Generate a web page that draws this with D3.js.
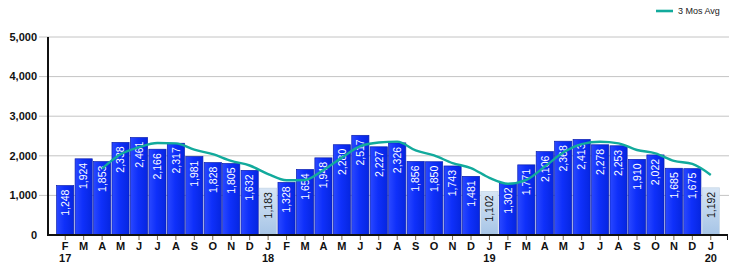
<!DOCTYPE html>
<html>
<head>
<meta charset="utf-8">
<script src="https://cdn.jsdelivr.net/npm/d3@7"></script>
<style>
  body { margin: 0; background: #fff; }
  svg { display: block; font-family: Arial, "Liberation Sans", sans-serif; }
</style>
</head>
<body>
<svg id="chart" width="740" height="264"></svg>
<script>
// month letters along the x axis, one per bar
const months = ["F","M","A","M","J","J","A","S","O","N","D","J",
                "F","M","A","M","J","J","A","S","O","N","D","J",
                "F","M","A","M","J","J","A","S","O","N","D","J"];
// year label printed under some months
const years = ["17","","","","","","","","","","","18",
               "","","","","","","","","","","","19",
               "","","","","","","","","","","","20"];
const values = [1248,1924,1853,2338,2461,2166,2317,1981,1828,1805,1632,1183,
                1328,1654,1948,2280,2517,2227,2326,1856,1850,1743,1481,1102,
                1302,1771,2106,2368,2413,2278,2253,1910,2022,1685,1675,1192];
// 3 months average (no value for the first two months)
const avg3 = [null,null,1675,2038,2217,2322,2315,2155,2042,1871,1755,1540,
              1381,1388,1643,1954,2242,2335,2357,2136,2011,1816,1691,1442,
              1295,1392,1726,2082,2296,2353,2315,2147,2062,1872,1794,1517];
const yTicks = [0,1000,2000,3000,4000,5000];

const svg = d3.select("#chart");
const fmt = d3.format(",");
const idx = d3.range(values.length);

let x = d3.scaleBand().domain(idx).range([56, 720]).paddingInner(0.07).paddingOuter(0.035);
let y = d3.scaleLinear().domain([0, 5000]).range([235, 37]);

const defs = svg.append("defs");
let gBlue = defs.append("linearGradient").attr("id","gBlue").attr("x1",0).attr("x2",1).attr("y1",0).attr("y2",0);
gBlue.append("stop").attr("offset","0%").attr("stop-color","#2a48ff");
gBlue.append("stop").attr("offset","45%").attr("stop-color","#0f30fa");
gBlue.append("stop").attr("offset","100%").attr("stop-color","#0626e0");
let gLight = defs.append("linearGradient").attr("id","gLight").attr("x1",0).attr("x2",0).attr("y1",0).attr("y2",1);
gLight.append("stop").attr("offset","0%").attr("stop-color","#d6e5f5");
gLight.append("stop").attr("offset","100%").attr("stop-color","#a6c4e6");

// gridlines
svg.append("g").selectAll("line").data(yTicks.slice(1)).enter().append("line")
    .attr("x1",39).attr("x2",729)
    .attr("y1",d => y(d)).attr("y2",d => y(d))
    .attr("stroke","#c4c4c4").attr("stroke-width",1);

// y labels
svg.append("g").selectAll("text").data(yTicks).enter().append("text")
    .attr("x",37).attr("y",d => y(d)).attr("dy","0.35em")
    .attr("text-anchor","end")
    .attr("font-size","11px").attr("font-weight","bold").attr("fill","#111")
    .text(d => fmt(d));

const isJan = i => months[i] === "J" && years[i] !== "";

// bars
svg.append("g").selectAll("rect").data(values).enter().append("rect")
    .attr("x",(d,i) => x(i)).attr("width",x.bandwidth())
    .attr("y",d => y(d)).attr("height",d => y(0) - y(d))
    .attr("fill",(d,i) => isJan(i) ? "url(#gLight)" : "url(#gBlue)")
    .attr("stroke",(d,i) => isJan(i) ? "#c4d4e4" : "#0a1fb0").attr("stroke-width",0.7);

// bar value labels
svg.append("g").selectAll("text").data(values).enter().append("text")
    .attr("transform",(d,i) => "translate(" + (x(i) + x.bandwidth()/2) + "," + (y(d) + 4) + ") rotate(-90)")
    .attr("dy","0.36em")
    .attr("text-anchor","end")
    .attr("font-size","10.5px")
    .attr("fill",(d,i) => isJan(i) ? "#111" : "#fff")
    .text(d => fmt(d));

// 3 mos avg line
let line = d3.line()
    .defined(d => d !== null)
    .x((d,i) => x(i) + x.bandwidth()/2)
    .y(d => y(d))
    .curve(d3.curveMonotoneX);
svg.append("path").datum(avg3)
    .attr("d", line)
    .attr("fill","none").attr("stroke","#12aa9c").attr("stroke-width",2.4);

// axes lines
svg.append("line").attr("x1",48).attr("x2",48).attr("y1",37).attr("y2",236)
    .attr("stroke","#111").attr("stroke-width",2);
svg.append("line").attr("x1",47).attr("x2",728).attr("y1",235).attr("y2",235)
    .attr("stroke","#111").attr("stroke-width",2);
svg.append("line").attr("x1",727.5).attr("x2",727.5).attr("y1",235).attr("y2",240)
    .attr("stroke","#111").attr("stroke-width",1);

// x ticks + labels
let xg = svg.append("g");
xg.selectAll("line").data(idx).enter().append("line")
    .attr("x1",i => x(i) + x.bandwidth()/2).attr("x2",i => x(i) + x.bandwidth()/2)
    .attr("y1",236).attr("y2",240)
    .attr("stroke","#7a6a50").attr("stroke-width",1);
xg.selectAll("text.m").data(idx).enter().append("text").attr("class","m")
    .attr("x",i => x(i) + x.bandwidth()/2).attr("y",250)
    .attr("text-anchor","middle")
    .attr("font-size","11px").attr("font-weight","bold").attr("fill","#111")
    .text(i => months[i]);
xg.selectAll("text.yr").data(idx.filter(i => years[i] !== "")).enter().append("text").attr("class","yr")
    .attr("x",i => x(i) + x.bandwidth()/2).attr("y",262)
    .attr("text-anchor","middle")
    .attr("font-size","11px").attr("font-weight","bold").attr("fill","#111")
    .text(i => years[i]);

// legend
svg.append("line").attr("x1",656).attr("x2",673).attr("y1",11).attr("y2",11)
    .attr("stroke","#12aa9c").attr("stroke-width",2.6);
svg.append("text").attr("x",678).attr("y",11).attr("dy","0.35em")
    .attr("font-size","9px").attr("fill","#222")
    .text("3 Mos Avg");
</script>
</body>
</html>
